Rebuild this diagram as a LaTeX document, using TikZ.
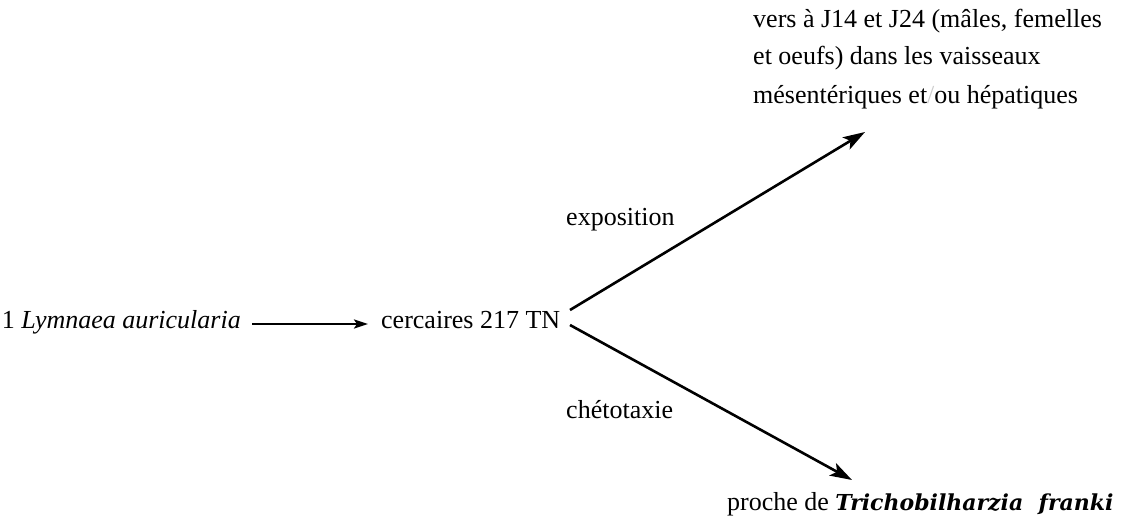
\documentclass[tikz,border=0pt]{standalone}
\usepackage{fontspec}
\setmainfont{Liberation Serif}
\newfontfamily\wideserif{DejaVu Serif}
\usetikzlibrary{arrows.meta}
\begin{document}
\begin{tikzpicture}[x=1pt,y=-1pt,
  txt/.style={inner sep=0pt,font=\fontsize{26}{40}\selectfont},
  conn/.style={line width=2.6pt,-{Stealth[length=22pt,width=14pt,inset=5pt]}},
  small/.style={line width=2.2pt,-{Stealth[length=14pt,width=9pt,inset=3pt]}}]
\useasboundingbox (0,0) rectangle (1132,519);
\node[txt,anchor=base east] (src) at (241,328) {1 \textit{Lymnaea auricularia}};
\node[txt,anchor=base west] (cerc) at (381,328) {cercaires 217 TN};
\node[txt,anchor=base west] (expo) at (566,225) {exposition};
\node[txt,anchor=base west] (chet) at (566,418) {chétotaxie};
\node[txt,anchor=base west] (vers1) at (753,28) {vers à J14 et J24 (mâles, femelles};
\node[txt,anchor=base west] (vers2) at (753,65) {et oeufs) dans les vaisseaux};
\node[txt,anchor=base west] (vers3) at (753,103) {mésentériques et{\color{gray!40}/}ou hépatiques};
\node[txt,anchor=base west] (proche) at (727,510)
  {proche de {\wideserif\fontsize{22}{26}\selectfont\bfseries\itshape Trichobilharzia\ \ franki}};
\coordinate (s1) at (252,324);
\coordinate (t1) at (368,324);
\coordinate (s2) at (570,310);
\coordinate (t2) at (865,132);
\coordinate (s3) at (570,325);
\coordinate (t3) at (852,480);
\draw[small] (s1) -- (t1);
\draw[conn] (s2) -- (t2);
\draw[conn] (s3) -- (t3);
\end{tikzpicture}
\end{document}
